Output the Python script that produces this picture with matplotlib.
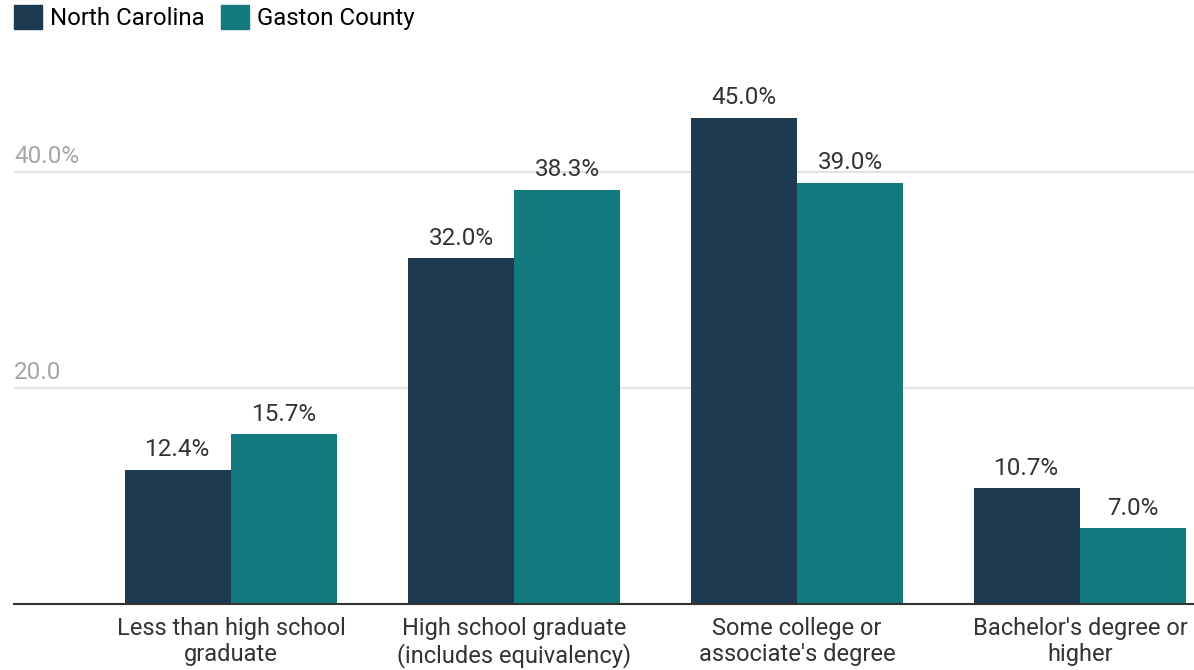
import numpy as np
import matplotlib
matplotlib.use("Agg")
import matplotlib.pyplot as plt
from matplotlib.patches import Patch

plt.rcParams["font.family"] = ["Roboto", "DejaVu Sans"]

categories = [
    "Less than high school\ngraduate",
    "High school graduate\n(includes equivalency)",
    "Some college or\nassociate's degree",
    "Bachelor's degree or\nhigher",
]
series_names = ["North Carolina", "Gaston County"]
nc_values = [12.4, 32.0, 45.0, 10.7]
gaston_values = [15.7, 38.3, 39.0, 7.0]
grid_values = [20, 40]
grid_labels = ["20.0", "40.0%"]

nc_color = "#1d3a51"
gaston_color = "#127a7e"

fig = plt.figure(figsize=(11.94, 6.70), dpi=100)
ax = fig.add_axes([14 / 1194, 66 / 670, 1180 / 1194, 518.4 / 670])

x = np.arange(len(categories))
w = 0.375

bars_nc = ax.bar(x - w / 2, nc_values, w, color=nc_color, zorder=3)
bars_ga = ax.bar(x + w / 2, gaston_values, w, color=gaston_color, zorder=3)

for bars, vals in [(bars_nc, nc_values), (bars_ga, gaston_values)]:
    for b, v in zip(bars, vals):
        ax.annotate(f"{v:.1f}%", (b.get_x() + b.get_width() / 2, v),
                    xytext=(0, 10), textcoords="offset points",
                    ha="center", va="baseline", fontsize=17.5, color="#333333")

ax.set_xlim(-0.767, 3.403)
ax.set_ylim(0, 48)

# gridlines with labels sitting on top of them at the left edge
for gv, gl in zip(grid_values, grid_labels):
    ax.axhline(gv, color="#e3e3e3", lw=1.5, zorder=1)
    ax.annotate(gl, (0, gv), xycoords=("axes fraction", "data"),
                xytext=(0, 6.5), textcoords="offset points",
                ha="left", va="baseline", fontsize=17.5, color="#a6a6a6")

ax.set_yticks([])
ax.set_xticks(x)
ax.set_xticklabels(categories, fontsize=17, color="#333333", linespacing=1.2)
ax.tick_params(axis="x", length=0, pad=9)

for s in ["top", "right", "left"]:
    ax.spines[s].set_visible(False)
ax.spines["bottom"].set_color("#333333")
ax.spines["bottom"].set_linewidth(1.5)
ax.spines["bottom"].set_zorder(4)

handles = [Patch(color=nc_color), Patch(color=gaston_color)]
fig.legend(handles, series_names, loc="upper left",
           bbox_to_anchor=(14 / 1194, 1 - 5 / 670), ncol=2, frameon=False,
           fontsize=17.3, handlelength=1.18, handleheight=1.18,
           handletextpad=0.3, columnspacing=0.7, borderpad=0, borderaxespad=0)

fig.savefig("out.png", dpi=100)
